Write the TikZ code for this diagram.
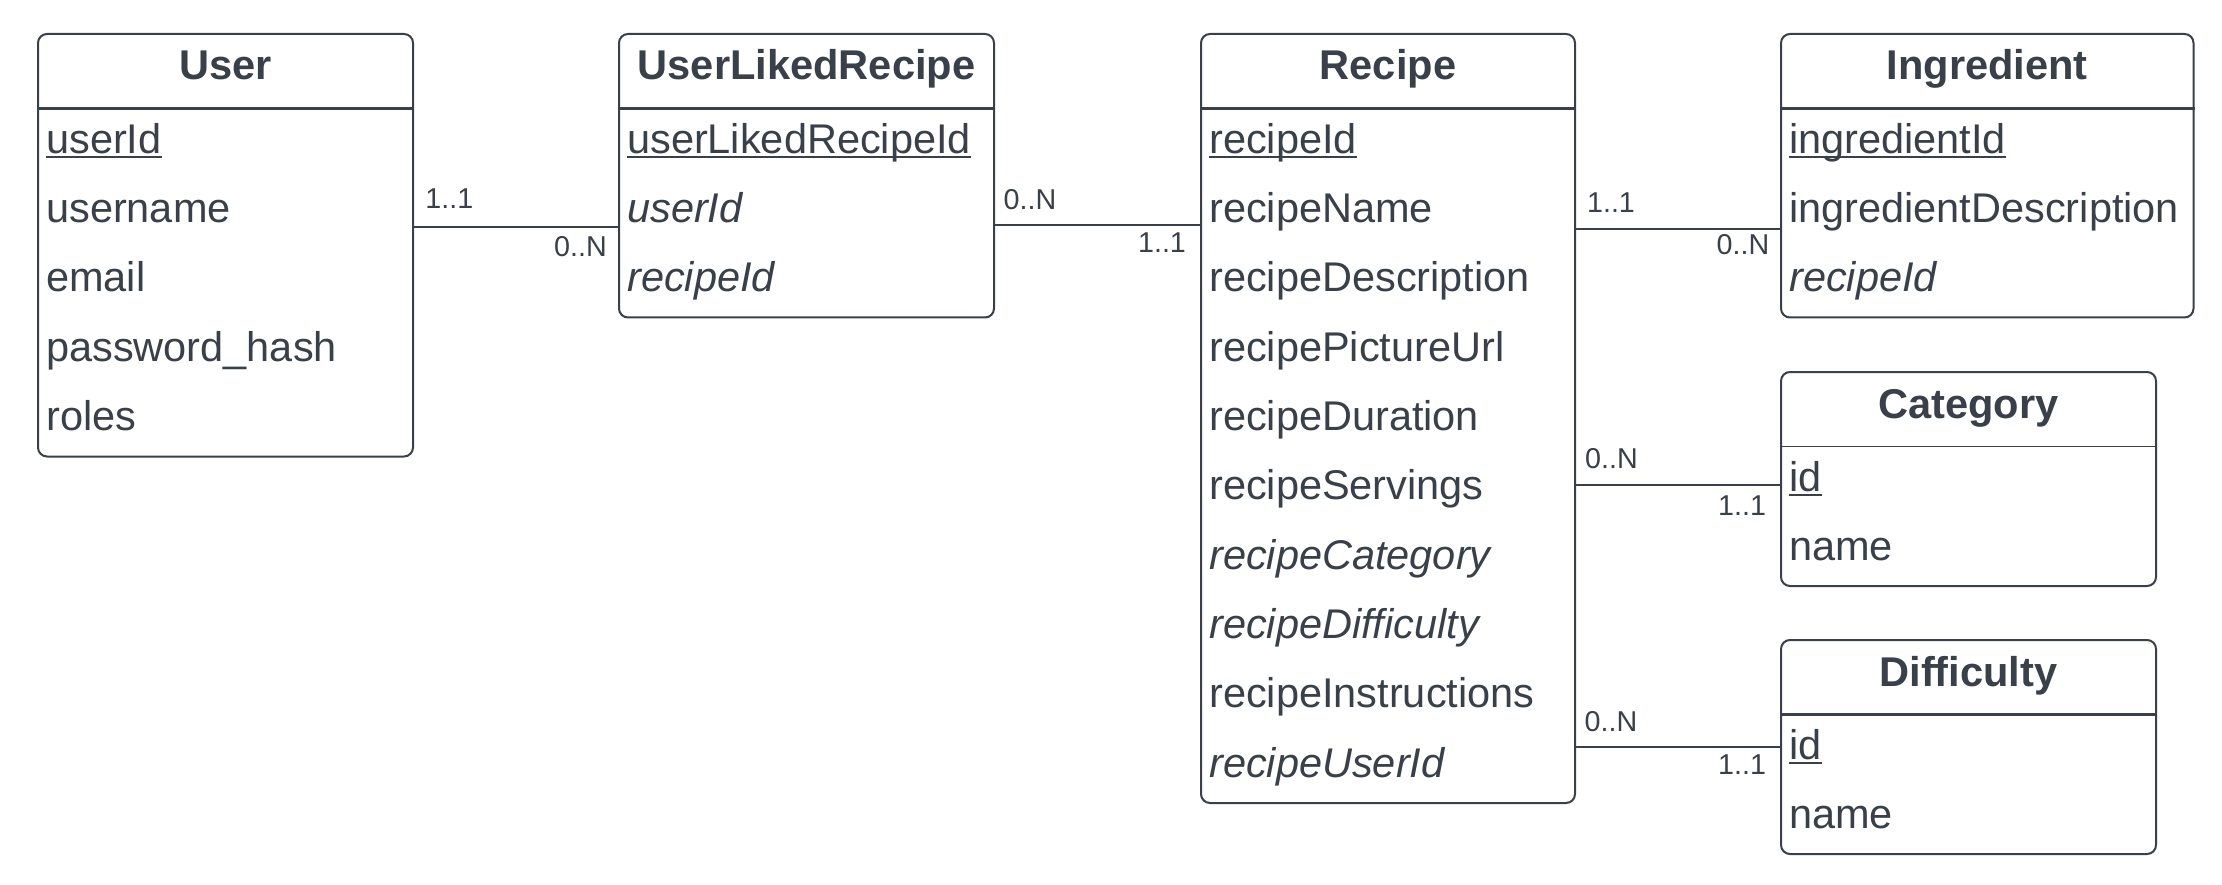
\documentclass[tikz,border=0pt]{standalone}
\usepackage{fontspec}
\setmainfont{Liberation Sans}
\definecolor{ink}{HTML}{394049}
\newcommand{\pkey}[1]{\setbox0\hbox{#1}\rlap{\rule[-5pt]{\wd0}{2.5pt}}\box0}
\newcommand{\entity}[7]{%
  \node[ebox, minimum width=#4pt, minimum height=#5pt] (#1) at (#2,#3) {};
  \draw[sep, line width=#7] ([yshift=-75.7pt]#1.north west) -- ([yshift=-75.7pt]#1.north east);
  \node[etitle] (#1-t) at ([yshift=-47pt]#1.north) {#6};
}
\newcommand{\erow}[3]{%
  \node[field] (#1-#2) at ([xshift=9pt,yshift=-120.4pt-#2*69.3pt]#1.north west) {#3};
}
\begin{document}
\begin{tikzpicture}[x=1pt,y=-1pt,
  ebox/.style={draw=ink, line width=2pt, rounded corners=9pt, anchor=north west, inner sep=0pt, fill=white},
  sep/.style={draw=ink},
  etitle/.style={anchor=base, inner sep=0pt, text=ink, font=\fontsize{41.6}{48}\selectfont\bfseries},
  field/.style={anchor=base west, inner sep=0pt, text=ink, font=\fontsize{41.5}{48}\selectfont},
  conn/.style={draw=ink, line width=2pt},
  card/.style={anchor=base, inner sep=0pt, text=ink, font=\fontsize{28.7}{32}\selectfont}]
\useasboundingbox (0,0) rectangle (2222,885);
\fill[white] (0,0) rectangle (2222,885);

\entity{user}{37}{33}{375}{422.5}{User}{2.5pt}
\erow{user}{0}{\pkey{userId}}
\erow{user}{1}{username}
\erow{user}{2}{email}
\erow{user}{3}{password\_hash}
\erow{user}{4}{roles}

\entity{ulr}{618}{33}{375}{283.5}{UserLikedRecipe}{2.5pt}
\erow{ulr}{0}{\pkey{userLikedRecipeId}}
\erow{ulr}{1}{\itshape userId}
\erow{ulr}{2}{\itshape recipeId}

\entity{recipe}{1200}{33}{374}{769}{Recipe}{2.5pt}
\erow{recipe}{0}{\pkey{recipeId}}
\erow{recipe}{1}{recipeName}
\erow{recipe}{2}{recipeDescription}
\erow{recipe}{3}{recipePictureUrl}
\erow{recipe}{4}{recipeDuration}
\erow{recipe}{5}{recipeServings}
\erow{recipe}{6}{\itshape recipeCategory}
\erow{recipe}{7}{\itshape recipeDifficulty}
\erow{recipe}{8}{recipeInstructions}
\erow{recipe}{9}{\itshape recipeUserId}

\entity{ingr}{1780}{33}{412.5}{283.5}{Ingredient}{2.5pt}
\erow{ingr}{0}{\pkey{ingredientId}}
\erow{ingr}{1}{ingredientDescription}
\erow{ingr}{2}{\itshape recipeId}

\entity{cat}{1780}{371}{375}{214}{Category}{1.3pt}
\erow{cat}{0}{\pkey{id}}
\erow{cat}{1}{name}

\entity{diff}{1780}{639}{375}{214}{Difficulty}{2.5pt}
\erow{diff}{0}{\pkey{id}}
\erow{diff}{1}{name}

\draw[conn] (user.east |- 0,227) -- (ulr.west |- 0,227);
\draw[conn] (ulr.east |- 0,225) -- (recipe.west |- 0,225);
\draw[conn] (recipe.east |- 0,228.7) -- (ingr.west |- 0,228.7);
\draw[conn] (recipe.east |- 0,485) -- (cat.west |- 0,485);
\draw[conn] (recipe.east |- 0,746.7) -- (diff.west |- 0,746.7);

\node[card] (c1a) at (449.3,209) {1..1};
\node[card] (c1b) at (580.5,257) {0..N};
\node[card] (c2a) at (1030,210) {0..N};
\node[card] (c2b) at (1162,253) {1..1};
\node[card] (c3a) at (1611,213) {1..1};
\node[card] (c3b) at (1743,255) {0..N};
\node[card] (c4a) at (1611.5,468) {0..N};
\node[card] (c4b) at (1742,515) {1..1};
\node[card] (c5a) at (1611,731) {0..N};
\node[card] (c5b) at (1742,774) {1..1};
\end{tikzpicture}
\end{document}
